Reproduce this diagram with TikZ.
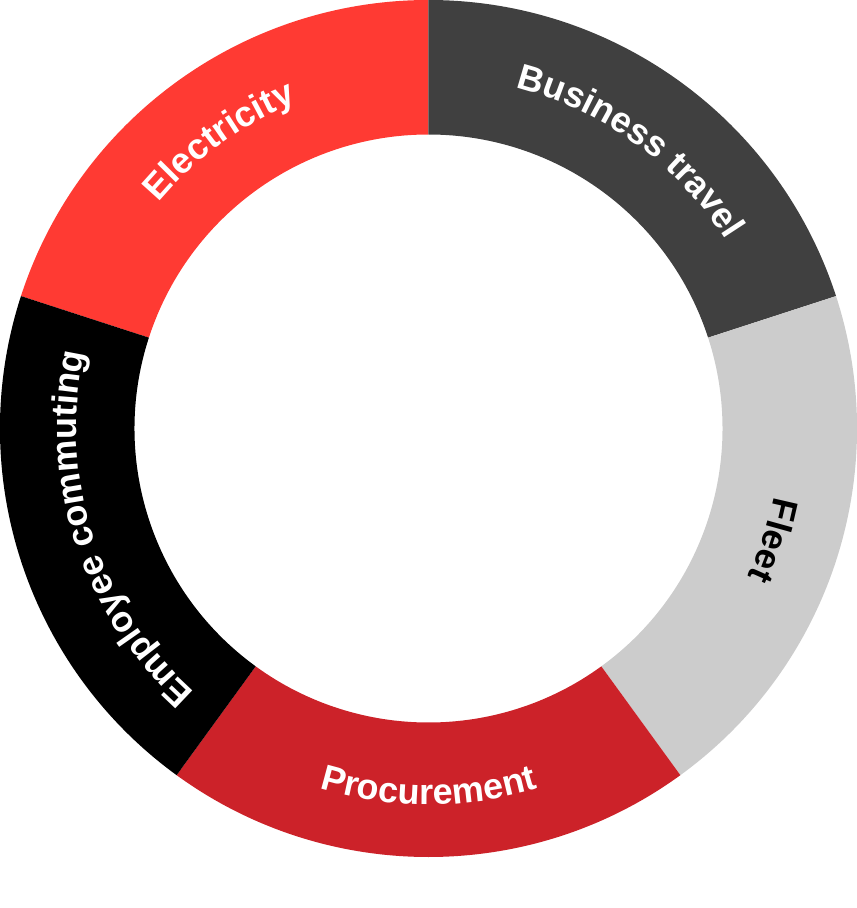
\documentclass[tikz,border=0pt]{standalone}
\usepackage{fontspec}
\newfontfamily\lblfamily{Liberation Sans}
\usetikzlibrary{decorations.text}
\definecolor{elecred}{HTML}{FF3A33}
\definecolor{bizgray}{HTML}{404040}
\definecolor{fleetgray}{HTML}{CCCCCC}
\definecolor{procred}{HTML}{CC2229}
\definecolor{commblack}{HTML}{000000}
\newcommand\lblfont{\lblfamily\bfseries\fontsize{36pt}{40pt}\selectfont}
\def\Ro{428.5pt}
\def\Ri{294pt}
\tikzset{
  segment/.style={fill=#1, draw=none},
  curvedlabel/.style={decorate, decoration={text along path, text align=center, text={#1}}}
}
\begin{document}
\begin{tikzpicture}
\useasboundingbox (-428.5pt,-479.5pt) rectangle (428.5pt,428.5pt);
% segments
\path[segment=elecred]   (90:\Ro) arc[start angle=90, end angle=162, radius=\Ro] -- (162:\Ri) arc[start angle=162, end angle=90, radius=\Ri] -- cycle;
\path[segment=bizgray]   (18:\Ro) arc[start angle=18, end angle=90, radius=\Ro] -- (90:\Ri) arc[start angle=90, end angle=18, radius=\Ri] -- cycle;
\path[segment=fleetgray] (-54:\Ro) arc[start angle=-54, end angle=18, radius=\Ro] -- (18:\Ri) arc[start angle=18, end angle=-54, radius=\Ri] -- cycle;
\path[segment=procred]   (-126:\Ro) arc[start angle=-126, end angle=-54, radius=\Ro] -- (-54:\Ri) arc[start angle=-54, end angle=-126, radius=\Ri] -- cycle;
\path[segment=commblack] (162:\Ro) arc[start angle=162, end angle=234, radius=\Ro] -- (234:\Ri) arc[start angle=234, end angle=162, radius=\Ri] -- cycle;
% labels
\coordinate (elecStart) at (162:352pt);
\path[curvedlabel={|\lblfont\color{white}|Electricity}] (elecStart) arc[start angle=162, end angle=90, radius=352pt];
\coordinate (bizStart) at (90:352pt);
\path[curvedlabel={|\lblfont\color{white}|Business travel}] (bizStart) arc[start angle=90, end angle=18, radius=352pt];
\coordinate (fleetStart) at (18:352pt);
\path[curvedlabel={|\lblfont\color{black}|Fleet}] (fleetStart) arc[start angle=18, end angle=-54, radius=352pt];
\coordinate (procStart) at (-126:376pt);
\path[curvedlabel={|\lblfont\color{white}|Procurement}] (procStart) arc[start angle=-126, end angle=-54, radius=376pt];
\coordinate (commStart) at (234:352pt);
\path[curvedlabel={|\lblfont\color{white}|Employee commuting}] (commStart) arc[start angle=234, end angle=162, radius=352pt];
\end{tikzpicture}
\end{document}
